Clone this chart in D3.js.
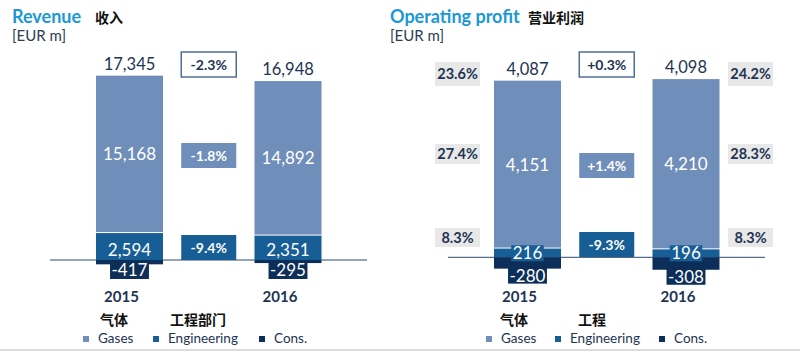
<!DOCTYPE html>
<html>
<head>
<meta charset="utf-8">
<script src="https://cdn.jsdelivr.net/npm/d3@7"></script>
<style>
  body { margin: 0; background: #fff; }
  svg { font-family: Lato, "Noto Sans CJK SC", sans-serif; }
</style>
</head>
<body>
<div id="chart"></div>
<script>
// data
const years = ["2015", "2016"];

const revenueGases = [15168, 14892];
const revenueEng = [2594, 2351];
const revenueCons = [-417, -295];
const revenueTotal = [17345, 16948];
const revenueChange = ["-2.3%", "-1.8%", "-9.4%"];

const profitGases = [4151, 4210];
const profitEng = [216, 196];
const profitCons = [-280, -308];
const profitTotal = [4087, 4098];
const profitChange = ["+0.3%", "+1.4%", "-9.3%"];

// operating margin per segment (total, gases, engineering)
const marginTotal = ["23.6%", "24.2%"];
const marginGases = ["27.4%", "28.3%"];
const marginEng = ["8.3%", "8.3%"];

const legendLabels = ["Gases", "Engineering", "Cons."];

const colors = {
  gases: "#6f8eb9",
  eng: "#165e95",
  cons: "#0c2e59",
  text: "#1d3453",
  title: "#1b98d5",
  grey: "#e8e8e8",
};

// plain hyphen for negatives, like the reference
const fmt = d3.formatLocale({ decimal: ".", thousands: ",", grouping: [3], currency: ["", ""], minus: "-" }).format(",");

const svg = d3
  .select("#chart")
  .append("svg")
  .attr("width", 800)
  .attr("height", 352);

// bottom rule
svg
  .append("line")
  .attr("x1", 0)
  .attr("x2", 800)
  .attr("y1", 350)
  .attr("y2", 350)
  .attr("stroke", "#d0d0d0")
  .attr("stroke-width", 1.5);

function labelBox(g, cx, top, h, text, fill, textColor, opts = {}) {
  const grp = g.append("g");
  const rect = grp.append("rect");
  const t = grp
    .append("text")
    .attr("x", cx)
    .attr("y", top + h / 2)
    .attr("dy", "0.36em")
    .attr("text-anchor", "middle")
    .attr("fill", textColor)
    .style("font-size", (opts.size || 16) + "px")
    .style("font-weight", opts.bold ? 700 : 400)
    .text(text);
  const w = opts.width || t.node().getComputedTextLength() + (opts.pad || 4);
  rect
    .attr("x", cx - w / 2)
    .attr("y", top)
    .attr("width", w)
    .attr("height", h)
    .attr("fill", fill)
    .attr("stroke", opts.stroke || "none")
    .attr("stroke-width", opts.stroke ? 1.5 : 0);
  return grp;
}

function drawPanel(p) {
  const g = svg.append("g");

  const x = d3.scalePoint().domain(["2015", "chg", "2016"]).range(p.xRange);
  const y = d3.scaleLinear().domain(p.yDomain).range(p.yRange);
  const barW = 67;
  const chgW = 55;

  // titles
  g.append("text")
    .attr("x", p.titleX)
    .attr("y", 23)
    .attr("fill", colors.title)
    .style("font-size", "18px")
    .style("font-weight", 700)
    .text(p.title);
  g.append("text")
    .attr("x", p.titleCnX)
    .attr("y", 22.5)
    .attr("fill", "#111")
    .style("font-size", "14px")
    .style("font-weight", 700)
    .style("font-family", "'Noto Sans CJK SC'")
    .text(p.titleCn);
  g.append("text")
    .attr("x", p.titleX)
    .attr("y", 41)
    .attr("fill", "#2b3d55")
    .style("font-size", "15px")
    .text("[EUR m]");

  const rows = years.map((yr, i) => ({
    yr,
    gases: p.gases[i],
    eng: p.eng[i],
    cons: p.cons[i],
    total: p.total[i],
  }));

  // zero line
  g.append("line")
    .attr("x1", p.lineX[0])
    .attr("x2", p.lineX[1])
    .attr("y1", y(0))
    .attr("y2", y(0))
    .attr("stroke", "#2d4a6b")
    .attr("stroke-width", 1);

  // stacked bars
  g.selectAll("rect.eng")
    .data(rows)
    .join("rect")
    .attr("class", "eng")
    .attr("x", (d) => x(d.yr) - barW / 2)
    .attr("y", (d) => y(d.eng))
    .attr("width", barW)
    .attr("height", (d) => y(0) - y(d.eng))
    .attr("fill", colors.eng);

  g.selectAll("rect.gases")
    .data(rows)
    .join("rect")
    .attr("class", "gases")
    .attr("x", (d) => x(d.yr) - barW / 2)
    .attr("y", (d) => y(d.eng + d.gases))
    .attr("width", barW)
    .attr("height", (d) => y(d.eng) - y(d.eng + d.gases) - 1)
    .attr("fill", colors.gases);

  g.selectAll("rect.cons")
    .data(rows)
    .join("rect")
    .attr("class", "cons")
    .attr("x", (d) => x(d.yr) - barW / 2)
    .attr("y", y(0))
    .attr("width", barW)
    .attr("height", (d) => y(d.cons) - y(0))
    .attr("fill", colors.cons);

  // value labels
  g.selectAll("text.total")
    .data(rows)
    .join("text")
    .attr("class", "total")
    .attr("x", (d) => x(d.yr))
    .attr("y", (d) => y(d.eng + d.gases) - 6)
    .attr("text-anchor", "middle")
    .attr("fill", colors.text)
    .style("font-size", "16.5px")
    .text((d) => fmt(d.total));

  g.selectAll("text.gasesVal")
    .data(rows)
    .join("text")
    .attr("class", "gasesVal")
    .attr("x", (d) => x(d.yr))
    .attr("y", (d) => (y(d.eng) + y(d.eng + d.gases)) / 2)
    .attr("dy", "0.36em")
    .attr("text-anchor", "middle")
    .attr("fill", "#fff")
    .style("font-size", "17px")
    .text((d) => fmt(d.gases));

  rows.forEach((d) => {
    labelBox(g, x(d.yr), y(0) + p.engBoxDy, p.engBoxH, fmt(d.eng), colors.eng, "#fff", {
      size: 17,
      pad: 3,
    });
    const top = p.consFromBar ? y(d.cons) - 1 : y(0);
    labelBox(g, x(d.yr), top, p.consBoxH, fmt(d.cons), colors.cons, "#fff", {
      size: 17,
      pad: 3,
    });
  });

  // year labels
  g.selectAll("text.year")
    .data(rows)
    .join("text")
    .attr("class", "year")
    .attr("x", (d) => x(d.yr) - 8)
    .attr("y", 302)
    .attr("text-anchor", "middle")
    .attr("fill", colors.text)
    .style("font-size", "15px")
    .style("font-weight", 700)
    .text((d) => d.yr);

  // change boxes
  const chgStyles = [
    { fill: "#fff", color: colors.text, stroke: "#4f6f96" },
    { fill: colors.gases, color: "#fff" },
    { fill: colors.eng, color: "#fff" },
  ];
  p.change.forEach((c, i) => {
    const s = chgStyles[i];
    labelBox(g, x("chg"), p.chgTops[i], 25, c, s.fill, s.color, {
      size: 14,
      bold: true,
      width: chgW,
      stroke: s.stroke,
    });
  });

  // margin boxes
  if (p.margins) {
    p.margins.forEach((m, k) => {
      rows.forEach((d, i) => {
        labelBox(g, x(d.yr) + p.marginDx[i], p.marginTops[k], p.marginH[k], m[i], colors.grey, colors.text, {
          size: 14.5,
          bold: true,
          width: 45,
        });
      });
    });
  }

  // legend
  p.legendCn.forEach((t, i) => {
    g.append("text")
      .attr("x", p.legendCnX[i])
      .attr("y", 325)
      .attr("fill", "#111")
      .style("font-size", "14px")
      .style("font-weight", 700)
      .style("font-family", "'Noto Sans CJK SC'")
      .text(t);
  });
  const legColors = [colors.gases, colors.eng, colors.cons];
  legendLabels.forEach((t, i) => {
    g.append("rect")
      .attr("x", p.legendX[i])
      .attr("y", 336)
      .attr("width", 6)
      .attr("height", 6)
      .attr("fill", legColors[i]);
    g.append("text")
      .attr("x", p.legendX[i] + 15)
      .attr("y", 343)
      .attr("fill", colors.text)
      .style("font-size", "13.5px")
      .text(t);
  });
}

drawPanel({
  title: "Revenue",
  titleCn: "收入",
  titleX: 12,
  titleCnX: 95,
  gases: revenueGases,
  eng: revenueEng,
  cons: revenueCons,
  total: revenueTotal,
  change: revenueChange,
  xRange: [129.5, 288],
  yDomain: [0, 18000],
  yRange: [260, 73.2],
  lineX: [50, 367],
  engBoxDy: -20,
  engBoxH: 20,
  consFromBar: false,
  consBoxH: 19,
  chgTops: [52, 143, 235],
  legendCn: ["气体", "工程部门"],
  legendCnX: [100, 170],
  legendX: [83, 153, 259],
});

drawPanel({
  title: "Operating profit",
  titleCn: "营业利润",
  titleX: 390,
  titleCnX: 528,
  gases: profitGases,
  eng: profitEng,
  cons: profitCons,
  total: profitTotal,
  change: profitChange,
  xRange: [527.5, 686],
  yDomain: [0, 4500],
  yRange: [257.3, 75.3],
  lineX: [448, 765],
  engBoxDy: -12,
  engBoxH: 16,
  consFromBar: true,
  consBoxH: 16,
  chgTops: [52, 153, 232],
  margins: [marginTotal, marginGases, marginEng],
  marginDx: [-70, 64.5],
  marginTops: [62, 144, 228],
  marginH: [24, 20, 19],
  legendCn: ["气体", "工程"],
  legendCnX: [500, 578],
  legendX: [486, 555, 659],
});
</script>
</body>
</html>
